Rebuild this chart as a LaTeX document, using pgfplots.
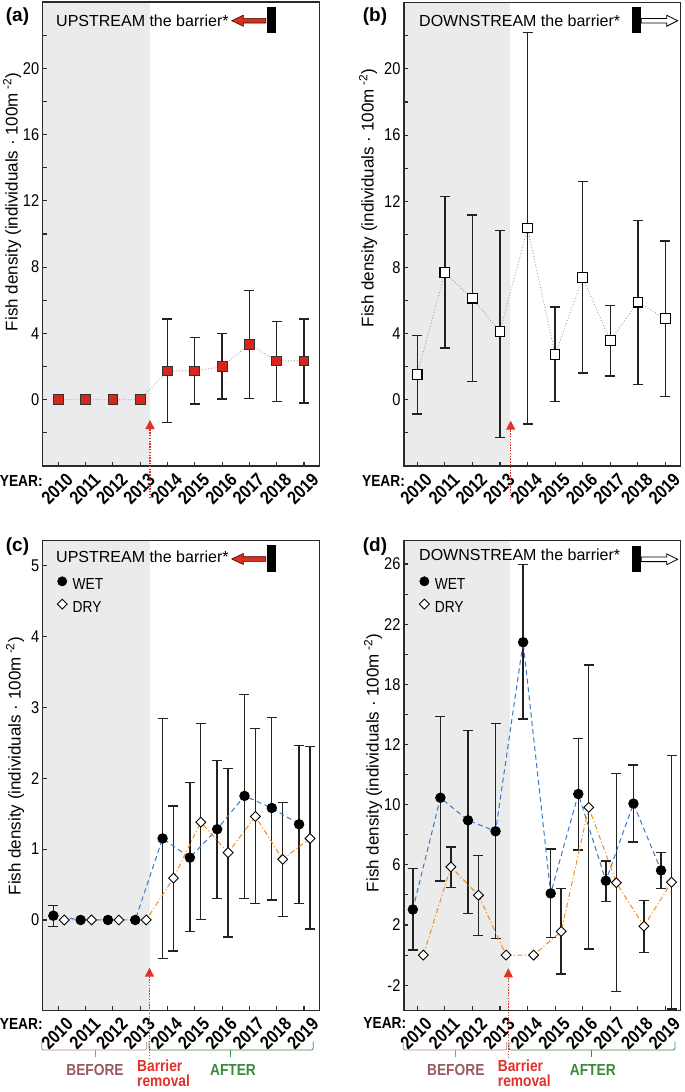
\documentclass[border=0pt]{standalone}
\usepackage{pgfplots}
\pgfplotsset{compat=1.18}
\usepackage{fontspec}
\setmainfont{Liberation Sans}
\newfontfamily\cond[FakeStretch=0.86]{Liberation Sans}

\definecolor{shadec}{HTML}{EBEBEB}
\definecolor{axisc}{HTML}{2A2A2A}
\definecolor{errc}{HTML}{222222}
\definecolor{sqred}{HTML}{D9261C}
\definecolor{wetc}{HTML}{3A78C8}
\definecolor{dryc}{HTML}{F28C1C}
\definecolor{arrred}{HTML}{E2302A}
\definecolor{befc}{HTML}{9A5A62}
\definecolor{befbr}{HTML}{B8868C}
\definecolor{aftc}{HTML}{3C8A3C}
\definecolor{upred}{HTML}{D8321F}

\newcommand\tickfont{\cond\fontsize{17}{17}\selectfont}
\newcommand\xtickfont{\cond\bfseries\fontsize{18.5}{18.5}\selectfont}
\newcommand\legfont{\cond\fontsize{16}{16}\selectfont}

\pgfplotsset{
  panel/.style={
    scale only axis, width=276.6pt,
    axis on top,
    tick align=inside, xtick pos=bottom, ytick pos=left,
    axis line style={line width=1.2pt, draw=axisc},
    major tick style={line width=1.1pt, draw=axisc},
    minor tick style={line width=1.1pt, draw=axisc},
    major tick length=4.5pt, minor tick length=4.5pt,
    xtick={2010,2011,2012,2013,2014,2015,2016,2017,2018,2019},
    xticklabels={2010,2011,2012,2013,2014,2015,2016,2017,2018,2019},
    xticklabel style={font=\xtickfont, rotate=45, anchor=east, inner sep=0pt, xshift=0.9pt, yshift=-15.5pt},
    yticklabel style={font=\tickfont},
    /pgf/number format/assume math mode=true,
    ylabel style={font=\fontsize{17}{17}\selectfont, anchor=center},
    ylabel={Fish density (individuals · 100m\textsuperscript{ -2})},
  },
  ebar/.style={only marks, mark=none,
    error bars/.cd, y dir=both, y explicit,
    error bar style={line width=1.4pt, draw=errc, solid},
    error mark options={rotate=90, line width=1.4pt, draw=errc, mark size=5pt, solid}},
  gline/.style={draw=gray!75, dotted, line width=0.9pt},
  wetline/.style={draw=wetc, line width=1pt, dash pattern=on 5pt off 3.5pt,
    mark=*, mark size=4.7pt, mark options={solid, fill=black, draw=black}},
  dryline/.style={draw=dryc, line width=1pt, dash pattern=on 5pt off 2.5pt on 1pt off 2.5pt,
    mark=square*, mark size=3.5pt, mark options={solid, rotate=45, fill=white, draw=black, line width=0.9pt}},
}

\begin{document}
\begin{tikzpicture}
\useasboundingbox (0pt,0pt) rectangle (685pt,-1092pt);

% ---------------- (a)
\begin{axis}[panel, at={(42.7pt,-2pt)}, anchor=north west, height=464pt,
  xmin=2009.43, xmax=2019.56, ymin=-4, ymax=24,
  ytick={0,4,8,12,16,20}, minor ytick={-2,2,6,10,14,18,22},
  ylabel style={at={([xshift=-30.7pt]rel axis cs:0,0.569)}}]
\fill[shadec] (axis cs:2009,-50) rectangle (axis cs:2013.36,50);
\addplot[ebar] coordinates {
 (2014,1.74) += (0,3.14) -= (0,3.10)
 (2015,1.74) += (0,2.00) -= (0,2.00)
 (2016,2.00) += (0,2.00) -= (0,1.96)
 (2017,3.34) += (0,3.26) -= (0,3.26)
 (2018,2.34) += (0,2.38) -= (0,2.44)
 (2019,2.34) += (0,2.54) -= (0,2.54)
};
\addplot[gline, mark=square*, mark size=4.9pt, mark options={solid, fill=sqred, draw=black!80, line width=0.9pt}] coordinates {
 (2010,0) (2011,0) (2012,0) (2013,0) (2014,1.74) (2015,1.74) (2016,2.00) (2017,3.34) (2018,2.34) (2019,2.34)};
\end{axis}

% ---------------- (b)
\begin{axis}[panel, at={(404pt,-2.7pt)}, anchor=north west, height=463.3pt,
  xmin=2009.52, xmax=2019.55, ymin=-4, ymax=24,
  ytick={0,4,8,12,16,20}, minor ytick={-2,2,6,10,14,18,22},
  ylabel style={at={([xshift=-36pt]rel axis cs:0,0.578)}}]
\fill[shadec] (axis cs:2009,-50) rectangle (axis cs:2013.38,50);
\addplot[ebar] coordinates {
 (2010,1.54) += (0,2.36) -= (0,2.40)
 (2011,7.68) += (0,4.60) -= (0,4.54)
 (2012,6.14) += (0,5.04) -= (0,5.04)
 (2013,4.12) += (0,6.12) -= (0,6.40)
 (2014,10.38) += (0,11.82) -= (0,11.84)
 (2015,2.74) += (0,2.86) -= (0,2.84)
 (2016,7.40) += (0,5.78) -= (0,5.78)
 (2017,3.58) += (0,2.12) -= (0,2.14)
 (2018,5.90) += (0,4.94) -= (0,4.96)
 (2019,4.90) += (0,4.70) -= (0,4.70)
};
\addplot[gline, mark=square*, mark size=4.8pt, mark options={solid, fill=white, draw=black, line width=1.1pt}] coordinates {
 (2010,1.54) (2011,7.68) (2012,6.14) (2013,4.12) (2014,10.38) (2015,2.74) (2016,7.40) (2017,3.58) (2018,5.90) (2019,4.90)};
\end{axis}

% ---------------- (c)
\begin{axis}[panel, at={(42.7pt,-540.7pt)}, anchor=north west, height=470pt,
  xmin=2009.43, xmax=2019.56, ymin=-1.28, ymax=5.35,
  ytick={0,1,2,3,4,5},
  ylabel style={at={([xshift=-27.7pt]rel axis cs:0,0.52)}},
  legend style={at={(rel axis cs:0.052,0.924)}, anchor=north west, draw=none, fill=none,
    inner sep=0pt, row sep=6pt, column sep=3.5pt, font=\legfont, cells={anchor=west}},
  legend image code/.code={\draw[#1] plot coordinates {(4.7pt,0.36em)};}]
\fill[shadec] (axis cs:2009,-50) rectangle (axis cs:2013.36,50);
\addlegendimage{only marks, mark=*, mark size=4.7pt, mark options={fill=black, draw=black}}
\addlegendentry{WET}
\addlegendimage{only marks, mark=square*, mark size=3.5pt, mark options={rotate=45, fill=white, draw=black, line width=0.9pt}}
\addlegendentry{DRY}
\addplot[ebar] coordinates {
 (2009.82,0.06) += (0,0.14) -= (0,0.15)
 (2013.82,1.15) += (0,1.69) -= (0,1.69)
 (2014.82,0.88) += (0,1.06) -= (0,1.04)
 (2015.82,1.28) += (0,0.97) -= (0,0.975)
 (2016.82,1.75) += (0,1.43) -= (0,1.445)
 (2017.82,1.58) += (0,1.28) -= (0,1.30)
 (2018.82,1.35) += (0,1.11) -= (0,1.12)
};
\addplot[ebar] coordinates {
 (2014.22,0.59) += (0,1.02) -= (0,1.03)
 (2015.22,1.38) += (0,1.39) -= (0,1.37)
 (2016.22,0.95) += (0,1.19) -= (0,1.19)
 (2017.22,1.46) += (0,1.24) -= (0,1.225)
 (2018.22,0.855) += (0,0.805) -= (0,0.805)
 (2019.22,1.15) += (0,1.30) -= (0,1.28)
};
\addplot[wetline] coordinates {
 (2009.82,0.06) (2010.82,0) (2011.82,0) (2012.82,0) (2013.82,1.15) (2014.82,0.88) (2015.82,1.28) (2016.82,1.75) (2017.82,1.58) (2018.82,1.35)};
\addplot[dryline] coordinates {
 (2010.22,0) (2011.22,0) (2012.22,0) (2013.22,0) (2014.22,0.59) (2015.22,1.38) (2016.22,0.95) (2017.22,1.46) (2018.22,0.855) (2019.22,1.15)};
\end{axis}

% ---------------- (d)
\begin{axis}[panel, at={(404pt,-540.7pt)}, anchor=north west, height=470pt,
  xmin=2009.52, xmax=2019.55, ymin=-3.7, ymax=27.55,
  ytick={-2,2,6,10,14,18,22,26}, yticklabels={-2,2,6,10,12,18,22,26},
  minor ytick={0,4,8,12,16,20,24},
  ylabel style={at={([xshift=-31pt]rel axis cs:0,0.527)}},
  legend style={at={(rel axis cs:0.055,0.924)}, anchor=north west, draw=none, fill=none,
    inner sep=0pt, row sep=6pt, column sep=3.5pt, font=\legfont, cells={anchor=west}},
  legend image code/.code={\draw[#1] plot coordinates {(4.7pt,0.36em)};}]
\fill[shadec] (axis cs:2009,-50) rectangle (axis cs:2013.38,50);
\addlegendimage{only marks, mark=*, mark size=4.7pt, mark options={fill=black, draw=black}}
\addlegendentry{WET}
\addlegendimage{only marks, mark=square*, mark size=3.5pt, mark options={rotate=45, fill=white, draw=black, line width=0.9pt}}
\addlegendentry{DRY}
\addplot[ebar] coordinates {
 (2009.84,3.03) += (0,2.72) -= (0,2.70)
 (2010.84,10.46) += (0,5.39) -= (0,5.53)
 (2011.84,8.96) += (0,5.96) -= (0,6.20)
 (2012.84,8.23) += (0,7.18) -= (0,7.13)
 (2013.84,20.80) += (0,5.18) -= (0,5.10)
 (2014.84,4.10) += (0,2.95) -= (0,2.94)
 (2015.84,10.71) += (0,3.67) -= (0,3.73)
 (2016.84,4.94) += (0,1.31) -= (0,1.38)
 (2017.84,10.07) += (0,2.57) -= (0,2.54)
 (2018.84,5.63) += (0,1.17) -= (0,1.22)
};
\addplot[ebar] coordinates {
 (2011.22,5.86) += (0,1.32) -= (0,1.37)
 (2012.22,3.98) += (0,2.65) -= (0,2.66)
 (2015.22,1.57) += (0,2.87) -= (0,2.83)
 (2016.22,9.82) += (0,9.46) -= (0,9.42)
 (2017.22,4.81) += (0,7.27) -= (0,7.25)
 (2018.22,1.92) += (0,1.72) -= (0,1.75)
 (2019.22,4.84) += (0,8.41) -= (0,8.43)
};
\addplot[wetline] coordinates {
 (2009.84,3.03) (2010.84,10.46) (2011.84,8.96) (2012.84,8.23) (2013.84,20.80) (2014.84,4.10) (2015.84,10.71) (2016.84,4.94) (2017.84,10.07) (2018.84,5.63)};
\addplot[dryline] coordinates {
 (2010.22,0) (2011.22,5.86) (2012.22,3.98) (2013.22,0) (2014.22,0) (2015.22,1.57) (2016.22,9.82) (2017.22,4.81) (2018.22,1.92) (2019.22,4.84)};
\end{axis}

% ---------------- annotations
\foreach \lab/\x/\y in {(a)/17.5/17,(b)/375/17,(c)/17.5/547,(d)/375/547}
  \node[font=\bfseries\fontsize{19}{19}\selectfont, inner sep=0pt] at (\x pt,-\y pt) {\lab};

\foreach \x/\y in {21.3/481,383.5/480.7,21.3/1024,384.8/1023}
  \node[font=\cond\bfseries\fontsize{16}{16}\selectfont, inner sep=0pt] at (\x pt,-\y pt) {YEAR:};

% upstream labels
\foreach \ty/\ay/\ry in {20.7/20.7/6.7,556.7/559/545}{
  \node[anchor=west, inner sep=0pt, font=\fontsize{16}{16}\selectfont] at (56pt,-\ty pt) {UPSTREAM the barrier*};
  \filldraw[fill=upred, draw=black!75!red, line width=0.6pt]
    (231.7pt,-\ay pt) -- ++(11.6pt,5.5pt) -- ++(0pt,-3.2pt) -- ++(22.4pt,0pt) -- ++(0pt,-4.6pt)
    -- ++(-22.4pt,0pt) -- ++(0pt,-3.2pt) -- cycle;
  \fill[black] (267.3pt,-\ry pt) rectangle ++(8.7pt,-26.6pt);
}
% downstream labels
\foreach \ty/\ay/\ry in {20.3/20.7/7.3,554.3/559.3/545.7}{
  \node[anchor=west, inner sep=0pt, font=\fontsize{16}{16}\selectfont] at (419pt,-\ty pt) {DOWNSTREAM the barrier*};
  \fill[black] (632.3pt,-\ry pt) rectangle ++(8.7pt,-26pt);
  \filldraw[fill=white, draw=black, line width=0.8pt]
    (677.7pt,-\ay pt) -- ++(-11pt,5.5pt) -- ++(0pt,-3.2pt) -- ++(-25.5pt,0pt) -- ++(0pt,-4.6pt)
    -- ++(25.5pt,0pt) -- ++(0pt,-3.2pt) -- cycle;
}

% barrier removal arrows
\foreach \x/\yb/\yt in {150/498/420,510.7/499/420.7,149.5/1059/967.7,508.3/1058/968.3}{
  \draw[arrred, line width=1.4pt, dash pattern=on 1.4pt off 1.4pt] (\x pt,-\yb pt) -- (\x pt,-\yt pt-8pt);
  \fill[arrred] (\x pt,-\yt pt) -- (\x pt-4.7pt,-\yt pt-9pt) -- (\x pt+4.7pt,-\yt pt-9pt) -- cycle;
}

% braces and period labels
\foreach \l/\r/\m/\c in {41.7/146.7/95/befbr,149/313.3/230/aftc,403.3/506.7/455/befbr,509/675/591.7/aftc}{
  \draw[\c, line width=0.8pt, rounded corners=2pt] (\l pt,-1041.7pt) -- (\l pt,-1050pt) -- (\r pt,-1050pt) -- (\r pt,-1041.7pt);
  \draw[\c, line width=0.8pt] (\m pt,-1050pt) -- (\m pt,-1056.5pt);
}
\foreach \bx/\rx/\ax in {95/137/233,455.8/497.7/592.8}{
  \node[befc, font=\cond\bfseries\fontsize{16}{16}\selectfont, inner sep=0pt] at (\bx pt,-1070pt) {BEFORE};
  \node[aftc, font=\cond\bfseries\fontsize{16}{16}\selectfont, inner sep=0pt] at (\ax pt,-1070pt) {AFTER};
  \node[arrred, font=\cond\bfseries\fontsize{16}{14.5}\selectfont, inner sep=0pt, anchor=north west, align=left] at (\rx pt,-1060pt) {Barrier\\removal};
}
\end{tikzpicture}
\end{document}
